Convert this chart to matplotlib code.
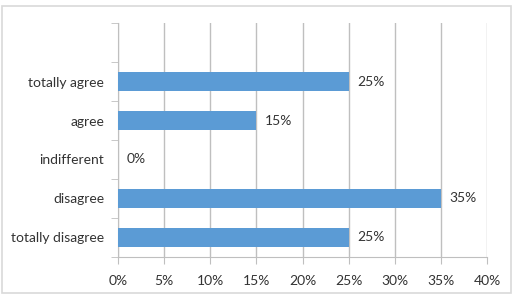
import numpy as np
import matplotlib.pyplot as plt
from matplotlib.patches import Rectangle

categories = ["totally disagree", "disagree", "indifferent", "agree", "totally agree"]
values = [25, 35, 0, 15, 25]
xticks = [0, 5, 10, 15, 20, 25, 30, 35, 40]

plt.rcParams['font.family'] = ['Lato', 'DejaVu Sans']
grid_c = '#BFBFBF'
text_c = '#333333'
fs = 10

fig = plt.figure(figsize=(5.2, 2.96), dpi=100)
fig.patches.append(Rectangle((0.004, 0.01), 0.978, 0.97, transform=fig.transFigure,
                             fill=False, edgecolor='#D9D9D9', linewidth=1.2))
ax = fig.add_axes([0.227, 0.132, 0.71, 0.79])

y = np.arange(len(categories))
ax.barh(y, values, height=0.47, color='#5B9BD5', zorder=3)
for yi, v in zip(y, values):
    ax.text(v + 0.9, yi, f"{v}%", va='center', ha='left', fontsize=fs, color=text_c)

ax.set_xlim(0, 40)
ax.set_ylim(-0.5, len(categories) + 0.5)
ax.set_xticks(xticks)
ax.set_xticklabels([f"{t}%" for t in xticks], fontsize=fs, color=text_c)
ax.set_yticks(y)
ax.set_yticklabels(categories, fontsize=fs, color=text_c)
ax.tick_params(axis='y', length=0, pad=10)
ax.tick_params(axis='x', length=5, color=grid_c, pad=8)
ax.set_yticks(np.arange(-0.5, len(categories) + 0.6, 1), minor=True)
ax.tick_params(axis='y', which='minor', length=5, color=grid_c)
ax.xaxis.grid(True, color=grid_c, linewidth=1, zorder=0)
for s in ['top', 'right']:
    ax.spines[s].set_visible(False)
for s in ['left', 'bottom']:
    ax.spines[s].set_color(grid_c)

fig.savefig('out.png', dpi=100)
